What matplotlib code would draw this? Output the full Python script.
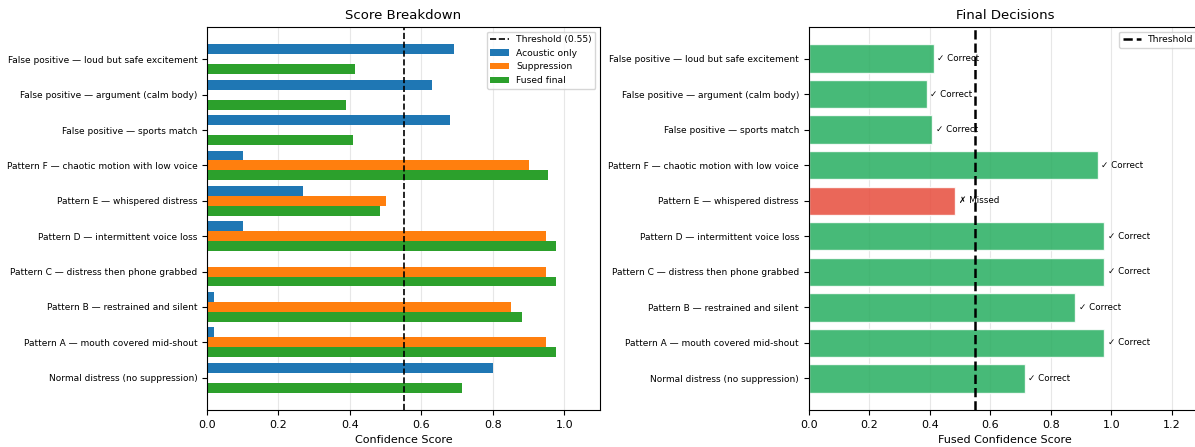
import numpy as np
import matplotlib
matplotlib.use("Agg")
import matplotlib.pyplot as plt
from matplotlib import font_manager
from matplotlib.ft2font import FT2Font

# Scenario labels, bottom to top
scenarios = [
    "Normal distress (no suppression)",
    "Pattern A — mouth covered mid-shout",
    "Pattern B — restrained and silent",
    "Pattern C — distress then phone grabbed",
    "Pattern D — intermittent voice loss",
    "Pattern E — whispered distress",
    "Pattern F — chaotic motion with low voice",
    "False positive — sports match",
    "False positive — argument (calm body)",
    "False positive — loud but safe excitement",
]

acoustic = [0.80, 0.02, 0.02, 0.0, 0.10, 0.27, 0.10, 0.68, 0.63, 0.69]
suppression = [0.0, 0.95, 0.85, 0.95, 0.95, 0.50, 0.90, 0.0, 0.0, 0.0]
fused = [0.714, 0.977, 0.881, 0.977, 0.976, 0.485, 0.955, 0.408, 0.39, 0.413]
outcomes = ["Correct", "Correct", "Correct", "Correct", "Correct",
            "Missed", "Correct", "Correct", "Correct", "Correct"]
threshold = 0.55


def family_with(chars, candidates):
    """Return the first installed family whose font covers all chars."""
    for fam in candidates:
        try:
            path = font_manager.findfont(fam, fallback_to_default=False)
            cmap = FT2Font(path).get_charmap()
        except Exception:
            continue
        if all(ord(c) in cmap for c in chars):
            return fam
    return None


emoji_ok, emoji_miss = "\u2705", "\u274c"
fam = family_with(emoji_ok + emoji_miss,
                  ["DejaVu Sans", "Noto Sans", "Noto Sans CJK JP",
                   "Noto Sans CJK SC", "Liberation Sans", "Roboto",
                   "Open Sans", "Lato", "Inter"])
if fam is not None:
    mark_ok, mark_miss = emoji_ok, emoji_miss
    label_family = [fam, "DejaVu Sans"] if fam != "DejaVu Sans" else ["DejaVu Sans"]
else:
    mark_ok, mark_miss = "\u2713", "\u2717"
    label_family = ["DejaVu Sans"]

W, H = 1195, 447
fig = plt.figure(figsize=(W / 100, H / 100), dpi=100)


def px_axes(x0, x1, y_top, y_bot):
    return fig.add_axes([x0 / W, 1 - y_bot / H, (x1 - x0) / W, (y_bot - y_top) / H])


ax1 = px_axes(207, 600, 27, 410)
ax2 = px_axes(808.7, 808.7 + 1.3 * 302.5, 27, 410)

y = np.arange(len(scenarios))
h = 0.28

# Left panel: component scores per scenario
ax1.axvline(threshold, color="black", linestyle="--", linewidth=1.2,
            label=f"Threshold ({threshold})")
ax1.barh(y + h, acoustic, h, color="tab:blue", label="Acoustic only")
ax1.barh(y, suppression, h, color="tab:orange", label="Suppression")
ax1.barh(y - h, fused, h, color="tab:green", label="Fused final")
ax1.set_yticks(y)
ax1.set_yticklabels(scenarios, fontsize=6.5)
ax1.set_xlim(0, 1.1)
ax1.set_xlabel("Confidence Score", fontsize=8)
ax1.set_title("Score Breakdown", fontsize=9.5)
ax1.tick_params(axis="x", labelsize=8)
ax1.grid(axis="x", alpha=0.3)
ax1.set_axisbelow(True)
ax1.legend(loc="upper right", fontsize=6.6)

# Right panel: final fused decision per scenario
colors = ["#e74c3c" if o == "Missed" else "#27ae60" for o in outcomes]
ax2.barh(y, fused, 0.8, color=colors, alpha=0.85, edgecolor="white")
ax2.axvline(threshold, color="black", linestyle="--", linewidth=1.8,
            label="Threshold")
for yi, v, o in zip(y, fused, outcomes):
    mark = mark_miss if o == "Missed" else mark_ok
    ax2.text(v + 0.012, yi, f"{mark} {o}", va="center", fontsize=6.3,
             family=label_family)
ax2.set_yticks(y)
ax2.set_yticklabels(scenarios, fontsize=6.5)
ax2.set_xlim(0, 1.3)
ax2.set_xlabel("Fused Confidence Score", fontsize=8)
ax2.set_title("Final Decisions", fontsize=9.5)
ax2.tick_params(axis="x", labelsize=8)
ax2.grid(axis="x", alpha=0.3)
ax2.set_axisbelow(True)
ax2.legend(loc="upper right", fontsize=6.6)

fig.savefig("out.png", dpi=100)
